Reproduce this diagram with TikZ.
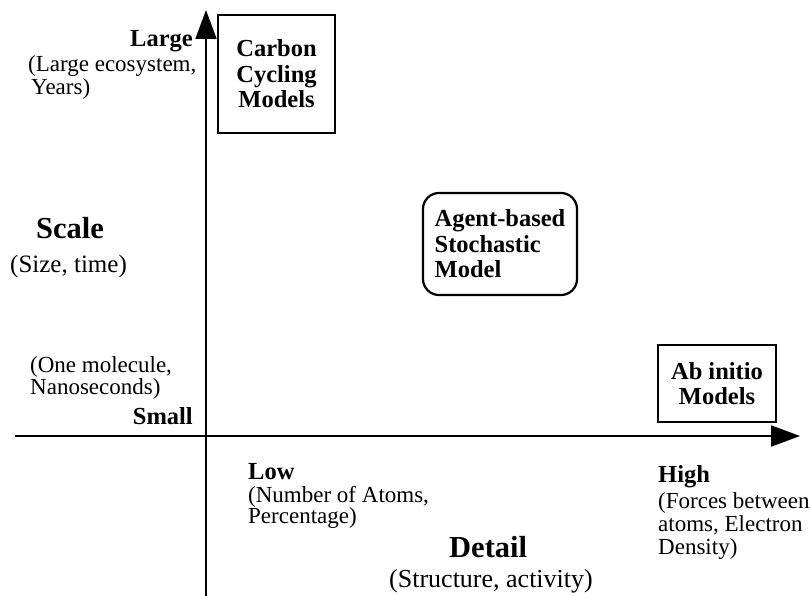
\documentclass[tikz,border=0pt]{standalone}
\usepackage{fontspec}
\setmainfont{Liberation Serif}
\usetikzlibrary{arrows.meta}
\begin{document}
\begin{tikzpicture}[x=1pt,y=-1pt,
  axis/.style={line width=2pt,-{Triangle[length=29pt,width=21pt]}},
  lbl/.style={inner sep=0pt,font=\fontsize{23}{23}\selectfont},
  blbl/.style={inner sep=0pt,font=\fontsize{24.5}{24.5}\selectfont\bfseries},
  big/.style={inner sep=0pt,font=\fontsize{30.5}{30.5}\selectfont\bfseries},
  model/.style={draw,line width=2.2pt,inner sep=0pt,font=\fontsize{24.5}{25.5}\selectfont\bfseries}]
\useasboundingbox (0,0) rectangle (810,596);
% axes
\coordinate (ybot) at (206,596);
\coordinate (ytop) at (206,10);
\coordinate (xl) at (15,436);
\coordinate (xr) at (800,436);
\draw[axis] (ybot) -- (ytop);
\draw[axis] (xl) -- (xr);
% model boxes
\node[model,align=center,minimum width=117pt,minimum height=118pt] (carbon) at (276.5,74) {Carbon\\Cycling\\Models};
\node[model,align=left,rounded corners=16pt,minimum width=154pt,minimum height=102pt] (agent) at (500,244) {Agent-based\\Stochastic\\Model};
\node[model,align=center,minimum width=118pt,minimum height=77pt] (abinitio) at (717,383.5) {Ab initio\\Models};
% vertical axis labels
\node[blbl,anchor=base east] (large) at (193,47) {Large};
\node[lbl,anchor=base west] (large1) at (28,72) {(Large ecosystem,};
\node[lbl,anchor=base west] (large2) at (31,95) {Years)};
\node[big,anchor=base west] (scale) at (36,238) {Scale};
\node[lbl,anchor=base west,font=\fontsize{25}{25}\selectfont] (scale1) at (10,272) {(Size, time)};
\node[lbl,anchor=base west] (small1) at (30,372) {(One molecule,};
\node[lbl,anchor=base west] (small2) at (30,394) {Nanoseconds)};
\node[blbl,anchor=base east] (small) at (193,424) {Small};
% horizontal axis labels
\node[blbl,anchor=base west] (low) at (248,479) {Low};
\node[lbl,anchor=base west] (low1) at (248,502) {(Number of Atoms,};
\node[lbl,anchor=base west] (low2) at (248,523) {Percentage)};
\node[big,anchor=base west] (detail) at (449,557) {Detail};
\node[lbl,anchor=base west,font=\fontsize{26}{26}\selectfont] (detail1) at (389,587) {(Structure, activity)};
\node[blbl,anchor=base west] (high) at (658,482) {High};
\node[lbl,anchor=base west] (high1) at (658,508) {(Forces between};
\node[lbl,anchor=base west] (high2) at (658,531) {atoms, Electron};
\node[lbl,anchor=base west] (high3) at (658,554) {Density)};
\end{tikzpicture}
\end{document}
